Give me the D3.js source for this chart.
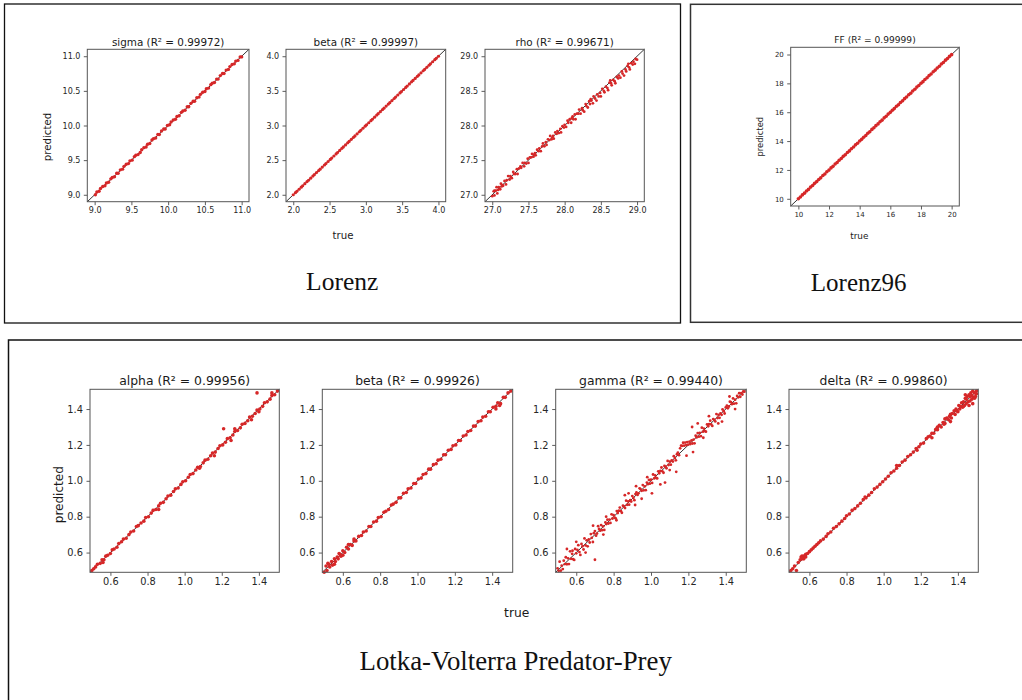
<!DOCTYPE html>
<html>
<head>
<meta charset="utf-8">
<script src="https://cdn.jsdelivr.net/npm/d3@7/dist/d3.min.js"></script>
<style>
  body { margin: 0; background: #fff; }
  svg { display: block; }
</style>
</head>
<body>
<script>
// ---------------- DATA ([true, predicted]) ----------------
const lorenzTitles = ["sigma (R² = 0.99972)", "beta (R² = 0.99997)", "rho (R² = 0.99671)"];
const lorenz96Title = "FF (R² = 0.99999)";
const lvTitles = ["alpha (R² = 0.99956)", "beta (R² = 0.99926)", "gamma (R² = 0.99440)", "delta (R² = 0.99860)"];

const sigmaTicks = [9.0, 9.5, 10.0, 10.5, 11.0];
const betaTicks = [2.0, 2.5, 3.0, 3.5, 4.0];
const rhoTicks = [27.0, 27.5, 28.0, 28.5, 29.0];
const ffTicks = [10, 12, 14, 16, 18, 20];
const lvTicks = [0.6, 0.8, 1.0, 1.2, 1.4];

const sigmaLim = [8.9, 11.1];
const betaLim = [1.9, 4.1];
const rhoLim = [26.9, 29.1];
const ffLim = [9.5, 20.5];
const lvLim = [0.49, 1.51];

const sigmaPts = [[9.01,9.00],[9.03,9.04],[9.06,9.05],[9.08,9.09],[9.11,9.12],[9.14,9.13],[9.16,9.17],[9.19,9.18],[9.22,9.23],[9.24,9.25],[9.27,9.26],[9.30,9.31],[9.32,9.31],[9.35,9.36],[9.38,9.37],[9.40,9.41],[9.43,9.44],[9.46,9.45],[9.48,9.49],[9.51,9.50],[9.54,9.55],[9.56,9.57],[9.59,9.58],[9.62,9.61],[9.64,9.65],[9.67,9.68],[9.70,9.69],[9.72,9.73],[9.75,9.74],[9.78,9.79],[9.80,9.81],[9.83,9.82],[9.86,9.87],[9.88,9.87],[9.91,9.92],[9.94,9.95],[9.96,9.95],[9.99,10.00],[10.02,10.01],[10.04,10.05],[10.07,10.08],[10.10,10.09],[10.12,10.13],[10.15,10.14],[10.18,10.19],[10.20,10.21],[10.23,10.22],[10.26,10.27],[10.28,10.27],[10.31,10.32],[10.34,10.35],[10.36,10.35],[10.39,10.40],[10.42,10.41],[10.44,10.45],[10.47,10.48],[10.50,10.49],[10.52,10.53],[10.55,10.54],[10.58,10.59],[10.60,10.61],[10.63,10.62],[10.66,10.67],[10.68,10.67],[10.71,10.72],[10.74,10.75],[10.76,10.75],[10.79,10.80],[10.82,10.81],[10.84,10.85],[10.87,10.88],[10.90,10.89],[10.92,10.93],[10.95,10.94],[10.98,10.99],[11.00,10.99]];

const betaPts = [[2.00,2.00],[2.03,2.03],[2.05,2.05],[2.08,2.08],[2.11,2.11],[2.13,2.13],[2.16,2.16],[2.19,2.19],[2.21,2.21],[2.24,2.24],[2.27,2.27],[2.29,2.29],[2.32,2.32],[2.35,2.35],[2.37,2.37],[2.40,2.40],[2.43,2.43],[2.45,2.45],[2.48,2.48],[2.51,2.51],[2.53,2.53],[2.56,2.56],[2.59,2.59],[2.61,2.61],[2.64,2.64],[2.67,2.67],[2.69,2.69],[2.72,2.72],[2.75,2.75],[2.77,2.77],[2.80,2.80],[2.83,2.83],[2.85,2.85],[2.88,2.88],[2.91,2.91],[2.93,2.93],[2.96,2.96],[2.99,2.99],[3.01,3.01],[3.04,3.04],[3.07,3.07],[3.09,3.09],[3.12,3.12],[3.15,3.15],[3.17,3.17],[3.20,3.20],[3.23,3.23],[3.25,3.25],[3.28,3.28],[3.31,3.31],[3.33,3.33],[3.36,3.36],[3.39,3.39],[3.41,3.41],[3.44,3.44],[3.47,3.47],[3.49,3.49],[3.52,3.52],[3.55,3.55],[3.57,3.57],[3.60,3.60],[3.63,3.63],[3.65,3.65],[3.68,3.68],[3.71,3.71],[3.73,3.73],[3.76,3.76],[3.79,3.79],[3.81,3.81],[3.84,3.84],[3.87,3.87],[3.89,3.89],[3.92,3.92],[3.95,3.95],[3.97,3.97],[4.00,4.00]];

const rhoPts = [[27.00,26.98],[27.02,27.05],[27.03,26.99],[27.05,27.06],[27.06,27.11],[27.08,27.07],[27.09,27.11],[27.11,27.08],[27.12,27.16],[27.14,27.14],[27.15,27.13],[27.17,27.20],[27.19,27.15],[27.20,27.21],[27.22,27.27],[27.24,27.22],[27.25,27.27],[27.27,27.24],[27.29,27.33],[27.30,27.30],[27.32,27.30],[27.34,27.37],[27.35,27.30],[27.37,27.38],[27.39,27.41],[27.40,27.39],[27.42,27.46],[27.44,27.41],[27.45,27.46],[27.47,27.45],[27.49,27.52],[27.50,27.46],[27.52,27.54],[27.54,27.54],[27.55,27.59],[27.57,27.55],[27.59,27.60],[27.60,27.57],[27.62,27.65],[27.64,27.63],[27.65,27.67],[27.67,27.63],[27.69,27.70],[27.70,27.74],[27.72,27.70],[27.74,27.76],[27.75,27.72],[27.77,27.80],[27.79,27.79],[27.80,27.85],[27.82,27.80],[27.84,27.85],[27.85,27.81],[27.87,27.90],[27.89,27.88],[27.90,27.92],[27.92,27.89],[27.94,27.95],[27.95,27.90],[27.97,27.99],[27.99,27.97],[28.00,28.01],[28.02,27.98],[28.04,28.07],[28.05,28.04],[28.07,28.09],[28.09,28.04],[28.10,28.11],[28.12,28.09],[28.14,28.16],[28.15,28.09],[28.17,28.17],[28.19,28.17],[28.20,28.23],[28.22,28.17],[28.24,28.25],[28.25,28.22],[28.27,28.20],[28.29,28.31],[28.30,28.28],[28.32,28.26],[28.34,28.35],[28.35,28.31],[28.37,28.36],[28.39,28.32],[28.40,28.42],[28.42,28.39],[28.44,28.36],[28.45,28.45],[28.47,28.42],[28.49,28.47],[28.50,28.42],[28.52,28.53],[28.54,28.50],[28.55,28.48],[28.57,28.56],[28.59,28.54],[28.60,28.51],[28.62,28.62],[28.64,28.61],[28.65,28.58],[28.67,28.66],[28.69,28.64],[28.70,28.61],[28.72,28.70],[28.74,28.68],[28.75,28.72],[28.77,28.69],[28.79,28.78],[28.80,28.75],[28.82,28.72],[28.84,28.81],[28.85,28.78],[28.87,28.86],[28.89,28.84],[28.90,28.81],[28.92,28.90],[28.94,28.88],[28.95,28.92],[28.97,28.89],[28.98,28.96],[29.00,28.95],[27.03,27.06],[27.07,27.02],[27.13,27.12],[27.26,27.25],[27.58,27.58],[27.83,27.83],[28.11,28.13],[28.36,28.38],[28.63,28.65],[28.88,28.89]];

const ffPts = [[10.00,10.00],[10.13,10.12],[10.26,10.27],[10.40,10.39],[10.53,10.54],[10.66,10.65],[10.80,10.81],[10.93,10.92],[11.06,11.07],[11.20,11.19],[11.33,11.34],[11.46,11.45],[11.60,11.61],[11.73,11.72],[11.86,11.87],[12.00,11.99],[12.13,12.14],[12.26,12.25],[12.40,12.41],[12.53,12.52],[12.66,12.67],[12.80,12.79],[12.93,12.94],[13.06,13.05],[13.20,13.21],[13.33,13.32],[13.46,13.47],[13.60,13.59],[13.73,13.74],[13.86,13.85],[14.00,14.01],[14.13,14.12],[14.26,14.27],[14.40,14.39],[14.53,14.54],[14.66,14.65],[14.80,14.81],[14.93,14.92],[15.06,15.07],[15.20,15.19],[15.33,15.34],[15.46,15.45],[15.60,15.61],[15.73,15.72],[15.86,15.87],[16.00,15.99],[16.13,16.14],[16.26,16.25],[16.40,16.41],[16.53,16.52],[16.66,16.67],[16.80,16.79],[16.93,16.94],[17.06,17.05],[17.20,17.21],[17.33,17.32],[17.46,17.47],[17.60,17.59],[17.73,17.74],[17.86,17.85],[18.00,18.01],[18.13,18.12],[18.26,18.27],[18.40,18.39],[18.53,18.54],[18.66,18.65],[18.80,18.81],[18.93,18.92],[19.06,19.07],[19.20,19.19],[19.33,19.34],[19.46,19.45],[19.60,19.61],[19.73,19.72],[19.86,19.87],[20.00,19.99]];

const alphaPts = [[0.50,0.50],[0.51,0.51],[0.52,0.52],[0.53,0.535],[0.545,0.54],[0.555,0.56],[0.565,0.56],[0.575,0.58],[0.585,0.585],[0.60,0.595],[0.61,0.615],[0.62,0.62],[0.635,0.63],[0.645,0.65],[0.66,0.66],[0.67,0.675],[0.685,0.68],[0.70,0.70],[0.71,0.715],[0.725,0.72],[0.74,0.745],[0.75,0.75],[0.765,0.765],[0.78,0.775],[0.79,0.795],[0.805,0.80],[0.82,0.82],[0.83,0.835],[0.845,0.84],[0.86,0.86],[0.87,0.875],[0.885,0.88],[0.90,0.90],[0.91,0.915],[0.925,0.92],[0.94,0.94],[0.95,0.955],[0.965,0.96],[0.98,0.98],[0.99,0.995],[1.005,1.00],[1.02,1.02],[1.03,1.035],[1.045,1.04],[1.06,1.06],[1.07,1.075],[1.085,1.08],[1.10,1.10],[1.11,1.115],[1.125,1.12],[1.14,1.14],[1.15,1.155],[1.165,1.16],[1.18,1.18],[1.19,1.195],[1.205,1.20],[1.22,1.215],[1.23,1.235],[1.245,1.24],[1.26,1.255],[1.27,1.275],[1.285,1.28],[1.30,1.295],[1.31,1.315],[1.325,1.32],[1.34,1.335],[1.35,1.355],[1.365,1.36],[1.38,1.375],[1.39,1.395],[1.405,1.40],[1.42,1.415],[1.43,1.435],[1.445,1.44],[1.46,1.455],[1.47,1.475],[1.485,1.48],[1.50,1.50],[1.21,1.29],[1.39,1.49],[1.47,1.49],[1.27,1.29],[1.25,1.225],[1.16,1.14],[1.08,1.07],[0.86,0.84],[1.40,1.385],[1.36,1.34],[0.56,0.545]];

const betaLvPts = [[0.50,0.49],[0.51,0.525],[0.515,0.50],[0.525,0.535],[0.53,0.52],[0.54,0.55],[0.545,0.53],[0.555,0.565],[0.56,0.55],[0.57,0.575],[0.575,0.565],[0.585,0.59],[0.59,0.58],[0.60,0.61],[0.61,0.60],[0.62,0.63],[0.63,0.62],[0.64,0.645],[0.65,0.64],[0.66,0.665],[0.67,0.665],[0.685,0.69],[0.70,0.695],[0.71,0.715],[0.725,0.72],[0.74,0.745],[0.75,0.745],[0.765,0.77],[0.78,0.775],[0.79,0.795],[0.805,0.80],[0.82,0.825],[0.83,0.83],[0.845,0.84],[0.86,0.865],[0.87,0.87],[0.885,0.88],[0.90,0.905],[0.91,0.905],[0.925,0.93],[0.94,0.935],[0.95,0.955],[0.965,0.96],[0.98,0.985],[0.99,0.985],[1.005,1.01],[1.02,1.015],[1.03,1.035],[1.045,1.04],[1.06,1.065],[1.07,1.065],[1.085,1.09],[1.10,1.095],[1.11,1.115],[1.125,1.12],[1.14,1.145],[1.15,1.145],[1.165,1.17],[1.18,1.175],[1.19,1.195],[1.205,1.20],[1.22,1.225],[1.23,1.225],[1.245,1.25],[1.26,1.255],[1.27,1.275],[1.285,1.28],[1.30,1.305],[1.31,1.305],[1.325,1.33],[1.34,1.335],[1.35,1.355],[1.365,1.36],[1.38,1.385],[1.39,1.385],[1.405,1.41],[1.42,1.415],[1.43,1.435],[1.445,1.43],[1.46,1.465],[1.47,1.465],[1.485,1.49],[1.50,1.50],[1.44,1.42],[1.42,1.40],[0.52,0.54],[0.58,0.595],[0.63,0.645],[0.66,0.675],[0.555,0.535],[0.60,0.585]];

const gammaPts = [[0.500,0.512],[0.506,0.498],[0.511,0.549],[0.517,0.499],[0.522,0.527],[0.528,0.508],[0.533,0.555],[0.539,0.536],[0.544,0.574],[0.550,0.535],[0.556,0.568],[0.561,0.536],[0.567,0.607],[0.572,0.565],[0.578,0.593],[0.583,0.563],[0.589,0.559],[0.594,0.620],[0.600,0.596],[0.606,0.615],[0.611,0.641],[0.617,0.603],[0.622,0.587],[0.628,0.648],[0.633,0.635],[0.639,0.617],[0.644,0.679],[0.650,0.640],[0.656,0.668],[0.661,0.635],[0.667,0.673],[0.672,0.656],[0.678,0.703],[0.683,0.682],[0.689,0.659],[0.694,0.708],[0.700,0.720],[0.706,0.694],[0.711,0.706],[0.717,0.747],[0.722,0.732],[0.728,0.722],[0.733,0.753],[0.739,0.725],[0.744,0.746],[0.750,0.726],[0.756,0.768],[0.761,0.759],[0.767,0.783],[0.772,0.762],[0.778,0.784],[0.783,0.765],[0.789,0.813],[0.794,0.790],[0.800,0.808],[0.806,0.794],[0.811,0.791],[0.817,0.831],[0.822,0.820],[0.828,0.833],[0.833,0.851],[0.839,0.831],[0.844,0.822],[0.850,0.861],[0.856,0.857],[0.861,0.848],[0.867,0.889],[0.872,0.866],[0.878,0.885],[0.883,0.867],[0.889,0.892],[0.894,0.884],[0.900,0.915],[0.906,0.905],[0.911,0.892],[0.917,0.926],[0.922,0.935],[0.928,0.921],[0.933,0.930],[0.939,0.958],[0.944,0.954],[0.950,0.944],[0.956,0.976],[0.961,0.947],[0.967,0.969],[0.972,0.948],[0.978,0.990],[0.983,0.981],[0.989,1.005],[0.994,0.984],[1.000,1.006],[1.006,0.988],[1.011,1.035],[1.017,1.013],[1.022,1.030],[1.028,1.016],[1.033,1.013],[1.039,1.053],[1.044,1.042],[1.050,1.055],[1.056,1.074],[1.061,1.053],[1.067,1.045],[1.072,1.083],[1.078,1.079],[1.083,1.070],[1.089,1.111],[1.094,1.088],[1.100,1.107],[1.106,1.090],[1.111,1.114],[1.117,1.107],[1.122,1.137],[1.128,1.127],[1.133,1.114],[1.139,1.148],[1.144,1.157],[1.150,1.143],[1.156,1.181],[1.161,1.196],[1.167,1.195],[1.172,1.212],[1.178,1.196],[1.183,1.213],[1.189,1.199],[1.194,1.216],[1.200,1.202],[1.206,1.218],[1.211,1.205],[1.217,1.225],[1.222,1.208],[1.228,1.230],[1.233,1.209],[1.239,1.251],[1.244,1.242],[1.250,1.266],[1.256,1.246],[1.261,1.267],[1.267,1.249],[1.272,1.296],[1.278,1.274],[1.283,1.291],[1.289,1.277],[1.294,1.274],[1.300,1.314],[1.306,1.304],[1.311,1.316],[1.317,1.335],[1.322,1.314],[1.328,1.306],[1.333,1.344],[1.339,1.340],[1.344,1.331],[1.350,1.372],[1.356,1.350],[1.361,1.368],[1.367,1.351],[1.372,1.375],[1.378,1.368],[1.383,1.398],[1.389,1.388],[1.394,1.375],[1.400,1.409],[1.406,1.419],[1.411,1.404],[1.417,1.414],[1.422,1.441],[1.428,1.438],[1.433,1.427],[1.439,1.459],[1.444,1.430],[1.450,1.452],[1.456,1.432],[1.461,1.473],[1.467,1.465],[1.472,1.488],[1.478,1.468],[1.483,1.489],[1.489,1.481],[1.494,1.498],[1.500,1.497],[0.70,0.56],[0.69,0.75],[0.745,0.70],[0.815,0.78],[0.915,0.865],[1.005,0.93],[1.075,0.99],[1.135,1.05],[1.225,1.16],[1.25,1.32],[1.22,1.30],[1.38,1.33],[1.31,1.36],[1.05,0.98],[0.92,0.97],[0.88,0.93],[0.65,0.60],[0.58,0.61],[0.95,0.90],[0.55,0.62],[0.60,0.66],[0.86,0.92],[1.10,1.06],[1.19,1.14],[1.28,1.24],[1.36,1.32],[1.42,1.47],[1.45,1.40],[0.98,1.02],[0.76,0.80]];

const deltaPts = [[0.50,0.50],[0.51,0.51],[0.52,0.525],[0.53,0.50],[0.54,0.545],[0.55,0.56],[0.555,0.575],[0.56,0.58],[0.565,0.575],[0.57,0.58],[0.58,0.59],[0.59,0.595],[0.60,0.605],[0.61,0.615],[0.62,0.625],[0.63,0.635],[0.64,0.645],[0.65,0.655],[0.66,0.665],[0.675,0.675],[0.69,0.69],[0.70,0.705],[0.715,0.715],[0.73,0.735],[0.745,0.745],[0.76,0.76],[0.775,0.775],[0.79,0.79],[0.80,0.805],[0.815,0.815],[0.83,0.835],[0.845,0.845],[0.86,0.86],[0.875,0.875],[0.89,0.895],[0.905,0.905],[0.92,0.92],[0.935,0.935],[0.95,0.955],[0.965,0.965],[0.98,0.98],[0.995,0.995],[1.01,1.01],[1.025,1.025],[1.04,1.045],[1.055,1.055],[1.07,1.07],[1.085,1.085],[1.10,1.105],[1.115,1.115],[1.13,1.135],[1.145,1.145],[1.16,1.16],[1.175,1.18],[1.19,1.19],[1.20,1.205],[1.215,1.21],[1.23,1.235],[1.24,1.245],[1.25,1.25],[1.26,1.265],[1.27,1.265],[1.28,1.285],[1.29,1.285],[1.30,1.31],[1.31,1.30],[1.32,1.325],[1.33,1.32],[1.34,1.35],[1.35,1.34],[1.36,1.37],[1.365,1.35],[1.37,1.375],[1.38,1.39],[1.385,1.37],[1.39,1.40],[1.40,1.385],[1.405,1.42],[1.41,1.40],[1.42,1.435],[1.425,1.41],[1.43,1.44],[1.435,1.42],[1.44,1.46],[1.445,1.43],[1.45,1.47],[1.455,1.44],[1.46,1.48],[1.465,1.445],[1.47,1.49],[1.475,1.455],[1.48,1.50],[1.485,1.465],[1.49,1.49],[1.495,1.47],[1.50,1.50],[1.48,1.43],[1.46,1.42],[1.50,1.485],[1.44,1.48],[1.36,1.33],[1.33,1.345],[1.29,1.30],[1.26,1.24],[1.18,1.17],[1.07,1.085],[0.90,0.91],[0.56,0.565],[0.57,0.565],[0.58,0.575],[1.415,1.415],[1.445,1.455],[1.475,1.475],[1.49,1.46],[1.465,1.47],[1.43,1.415],[1.395,1.39],[1.355,1.36],[1.325,1.315],[1.285,1.29]];

// ---------------- LAYOUT ----------------
const W = 1022, H = 700;
const RED = "#d62728";
const svg = d3.select("body").append("svg").attr("width", W).attr("height", H);
const SANS = "'DejaVu Sans', sans-serif";
const SERIF = "'Liberation Serif', 'Times New Roman', serif";

// outer boxes
svg.append("rect").attr("x", 4.5).attr("y", 4).attr("width", 676).attr("height", 319)
  .attr("fill", "none").attr("stroke", "#111").attr("stroke-width", 1.3);
svg.append("rect").attr("x", 690.5).attr("y", 4.3).attr("width", 360).attr("height", 318)
  .attr("fill", "none").attr("stroke", "#333").attr("stroke-width", 1.5);
svg.append("rect").attr("x", 8.5).attr("y", 340).attr("width", 1040).attr("height", 400)
  .attr("fill", "none").attr("stroke", "#111").attr("stroke-width", 1.5);

function panel(cfg) {
  const g = svg.append("g");
  const x = d3.scaleLinear().domain(cfg.lim).range([cfg.x0, cfg.x1]);
  const y = d3.scaleLinear().domain(cfg.lim).range([cfg.y1, cfg.y0]);
  const fmt = d3.format(cfg.fmt);

  // diagonal reference line
  g.append("line")
    .attr("x1", x(cfg.lim[0])).attr("y1", y(cfg.lim[0]))
    .attr("x2", x(cfg.lim[1])).attr("y2", y(cfg.lim[1]))
    .attr("stroke", "#000").attr("stroke-width", 0.8);

  // points
  g.append("g").selectAll("circle").data(cfg.data).join("circle")
    .attr("cx", d => x(d[0])).attr("cy", d => y(d[1]))
    .attr("r", cfg.r).attr("fill", RED);

  // axes
  const ax = g.append("g").attr("transform", `translate(0,${cfg.y1})`)
    .call(d3.axisBottom(x).tickValues(cfg.ticks).tickFormat(fmt).tickSize(3.5).tickPadding(cfg.pad));
  const ay = g.append("g").attr("transform", `translate(${cfg.x0},0)`)
    .call(d3.axisLeft(y).tickValues(cfg.ticks).tickFormat(fmt).tickSize(3.5).tickPadding(cfg.pad + 1.2));
  [ax, ay].forEach(a => {
    a.select(".domain").remove();
    a.selectAll(".tick line").attr("stroke", "#333").attr("stroke-width", 0.8);
    a.selectAll(".tick text").attr("fill", "#262626").style("font-family", SANS).style("font-size", cfg.fs + "px");
  });

  // frame
  g.append("rect").attr("x", cfg.x0).attr("y", cfg.y0)
    .attr("width", cfg.x1 - cfg.x0).attr("height", cfg.y1 - cfg.y0)
    .attr("fill", "none").attr("stroke", "#555").attr("stroke-width", 1);

  // title
  g.append("text").attr("x", (cfg.x0 + cfg.x1) / 2).attr("y", cfg.y0 - cfg.tgap)
    .attr("text-anchor", "middle").attr("fill", "#1a1a1a")
    .style("font-family", SANS).style("font-size", cfg.tfs + "px").text(cfg.title);
}

const lorenzCfg = [
  { x0: 87.3, x1: 249, lim: sigmaLim, ticks: sigmaTicks, data: sigmaPts, title: lorenzTitles[0], r: 1.7 },
  { x0: 286, x1: 445.7, lim: betaLim, ticks: betaTicks, data: betaPts, title: lorenzTitles[1], r: 1.6 },
  { x0: 485, x1: 644.3, lim: rhoLim, ticks: rhoTicks, data: rhoPts, title: lorenzTitles[2], r: 1.4 }
];
lorenzCfg.forEach(c => panel(Object.assign({ y0: 49.3, y1: 201.7, fmt: ".1f", fs: 8, tfs: 10.4, tgap: 3.6, pad: 2.2 }, c)));

panel({ x0: 790.7, x1: 959.3, y0: 47.3, y1: 206, lim: ffLim, ticks: ffTicks, data: ffPts, title: lorenz96Title,
        fmt: "d", fs: 7, tfs: 9.1, tgap: 4.6, pad: 2.2, r: 1.8 });

const lvData = [alphaPts, betaLvPts, gammaPts, deltaPts];
const lvR = [1.8, 1.8, 1.4, 1.8];
const lvX = [[90, 279.3], [322.3, 512.7], [555.7, 746.3], [789, 978.3]];
lvData.forEach((d, i) => panel({ x0: lvX[i][0], x1: lvX[i][1], y0: 389.3, y1: 572.3, lim: lvLim, ticks: lvTicks,
  data: d, title: lvTitles[i], fmt: ".1f", fs: 9.8, tfs: 12.4, tgap: 4.3, pad: 2.4, r: lvR[i] }));

// axis labels
function label(txt, x, y, fs, rot) {
  const t = svg.append("text").attr("fill", "#1a1a1a").style("font-family", SANS).style("font-size", fs + "px")
    .attr("text-anchor", "middle").text(txt);
  if (rot) t.attr("transform", `translate(${x},${y}) rotate(-90)`).attr("dy", "0.35em");
  else t.attr("x", x).attr("y", y);
}
label("predicted", 47.5, 137, 10.2, true);
label("true", 343, 239, 10.2, false);
label("predicted", 760, 136.7, 8.4, true);
label("true", 859.3, 239, 8.9, false);
label("predicted", 59, 494.7, 12, true);
label("true", 516.7, 617, 12.3, false);

// captions
function caption(txt, x, y, fs) {
  svg.append("text").attr("x", x).attr("y", y).attr("text-anchor", "middle").attr("fill", "#111")
    .style("font-family", SERIF).style("font-size", fs + "px").text(txt);
}
caption("Lorenz", 342.2, 290, 25.5);
caption("Lorenz96", 858.7, 290.7, 25);
caption("Lotka-Volterra Predator-Prey", 515.7, 670, 26.8);
</script>
</body>
</html>
